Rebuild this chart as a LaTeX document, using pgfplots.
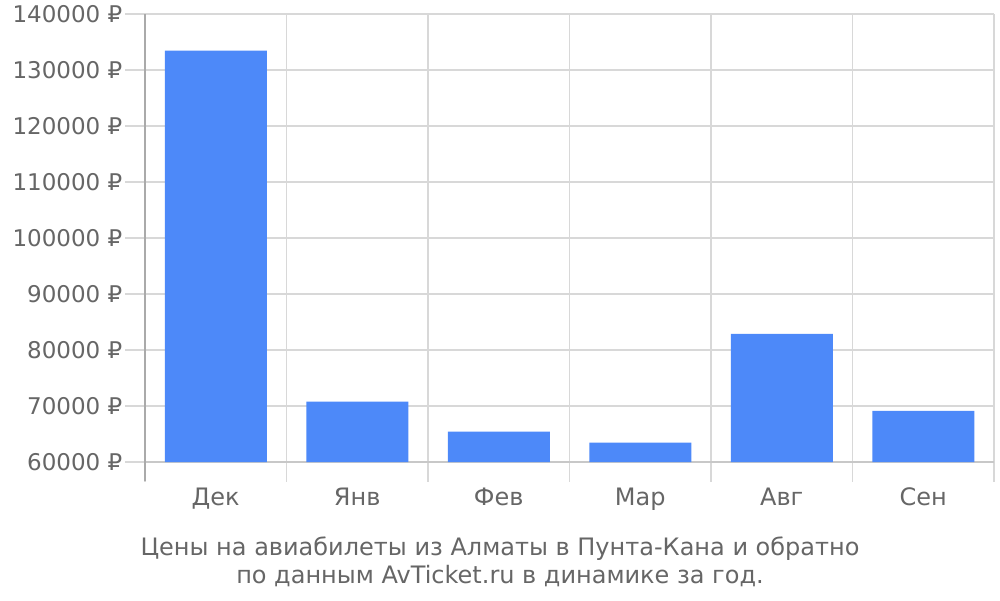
\documentclass[border=0pt]{standalone}
\usepackage{fontspec}
\setmainfont{DejaVu Sans}
\usepackage{pgfplots}
\pgfplotsset{compat=1.18}
\definecolor{barblue}{RGB}{77,137,249}
\definecolor{gridgray}{RGB}{216,216,216}
\definecolor{basegray}{RGB}{200,200,200}
\definecolor{axisgray}{RGB}{170,170,170}
\definecolor{textgray}{RGB}{102,102,102}
\begin{document}
\begin{tikzpicture}[x=1pt,y=1pt]
\useasboundingbox (0,0) rectangle (1000,-600);
\begin{axis}[
    at={(145pt,-462pt)}, anchor=south west,
    scale only axis, width=849pt, height=448pt,
    xmin=-0.5, xmax=5.5,
    ymin=60000, ymax=140000,
    ybar, bar width=102pt,
    axis x line=bottom, axis y line=left,
    x axis line style={-, draw=basegray, line width=1.3pt},
    y axis line style={-, draw=axisgray, line width=1.3pt, shorten <=-19pt},
    xtick={-0.5,0.5,...,5.5},
    xticklabels={},
    extra x ticks={0,1,2,3,4,5},
    extra x tick labels={Дек,Янв,Фев,Мар,Авг,Сен},
    extra x tick style={grid=none, tick style={draw=none}},
    xmajorgrids=true, ymajorgrids=true,
    grid style={gridgray, line width=1.3pt},
    ytick={60000,70000,...,140000},
    yticklabels={60000 ₽,70000 ₽,80000 ₽,90000 ₽,100000 ₽,110000 ₽,120000 ₽,130000 ₽,140000 ₽},
    scaled y ticks=false,
    tick align=outside,
    major tick length=19.5pt,
    tick style={gridgray, line width=1.3pt},
    tick label style={textgray},
    yticklabel style={inner sep=0pt, xshift=-3pt, font=\fontsize{23}{27}\selectfont},
    xticklabel style={inner sep=0pt, anchor=north, yshift=-6pt, font=\fontsize{24}{28}\selectfont},
]
\addplot[fill=barblue, draw=none] coordinates {(0,133450)(1,70770)(2,65420)(3,63450)(4,82860)(5,69110)};
\end{axis}
\node[textgray, align=center, font=\fontsize{24}{28}\selectfont] at (500,-562)
  {Цены на авиабилеты из Алматы в Пунта-Кана и обратно\\по данным AvTicket.ru в динамике за год.};
\end{tikzpicture}
\end{document}
